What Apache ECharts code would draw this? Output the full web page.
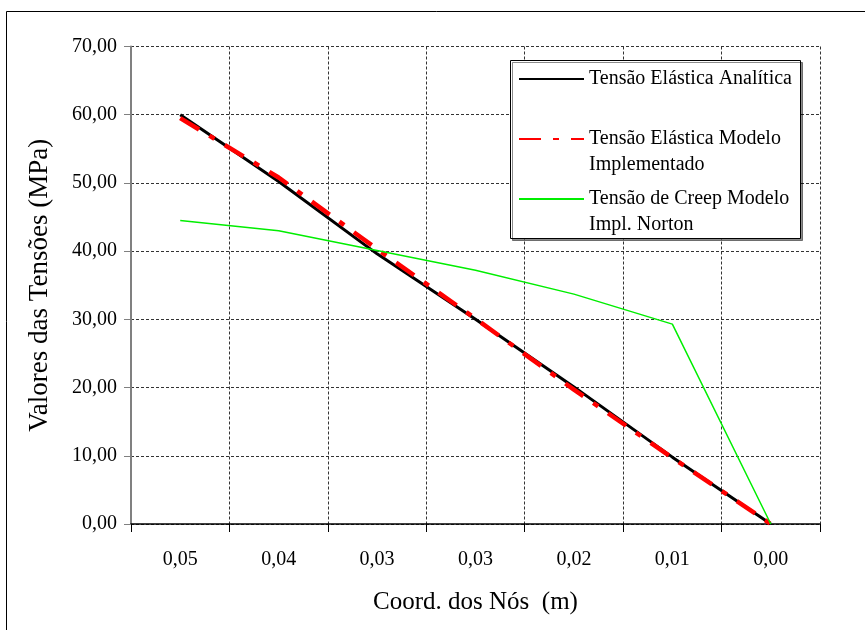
<!DOCTYPE html>
<html>
<head>
<meta charset="utf-8">
<script src="https://cdn.jsdelivr.net/npm/echarts@6/dist/echarts.min.js"></script>
<style>html,body{margin:0;padding:0;background:#fff}#c{width:865px;height:630px}</style>
</head>
<body>
<div id="c"></div>
<script>
// ---- data ----
var xLabels = ['0,05', '0,04', '0,03', '0,03', '0,02', '0,01', '0,00'];
var analitica = [60.0, 50.2, 39.6, 30.0, 20.1, 9.8, 0.0];
var modelo = [59.5, 50.8, 40.3, 30.1, 19.7, 9.7, 0.0];
var creep = [44.5, 43.0, 40.1, 37.2, 33.7, 29.3, 0.0];
var yTickLabels = ['0,00', '10,00', '20,00', '30,00', '40,00', '50,00', '60,00', '70,00'];
var seriesNames = ['Tensão Elástica Analítica', 'Tensão Elástica Modelo\nImplementado', 'Tensão de Creep Modelo\nImpl. Norton'];

var FONT = '"Liberation Serif", "Times New Roman", serif';
var chart = echarts.init(document.getElementById('c'), null, {renderer: 'canvas'});

function legendText(name) {
  var lines = name.split('\n');
  if (lines.length === 1) return ' \n' + lines[0] + '\n ';
  return ' \n' + lines.join('\n');
}

chart.setOption({
  animation: false,
  backgroundColor: '#fff',
  graphic: [
    {type: 'rect', z: 1, shape: {x: 6.5, y: 11.5, width: 900, height: 700},
     style: {fill: 'none', stroke: '#000', lineWidth: 1}},
    {type: 'rect', z: 1, shape: {x: 510.5, y: 60.5, width: 290, height: 178},
     style: {fill: '#fff', stroke: '#000', lineWidth: 1, shadowColor: 'rgba(0,0,0,0.45)', shadowOffsetX: 2, shadowOffsetY: 2, shadowBlur: 0}}
  ],
  grid: {left: 131, right: 45, top: 46.5, bottom: 106, containLabel: false},
  legend: {
    orient: 'vertical', left: 518, top: 40, padding: 0, itemGap: -18,
    itemWidth: 65, itemHeight: 14, z: 5,
    itemStyle: {opacity: 0},
    formatter: legendText,
    textStyle: {fontFamily: FONT, fontSize: 20, lineHeight: 26, color: '#000'},
    data: seriesNames
  },
  xAxis: {
    type: 'category', data: xLabels, boundaryGap: true,
    axisLine: {lineStyle: {color: '#000', width: 1.5}},
    axisTick: {show: true, length: 8, interval: 0, alignWithLabel: false, lineStyle: {color: '#000'}},
    axisLabel: {interval: 0, margin: 26, fontFamily: FONT, fontSize: 20, color: '#000'},
    splitLine: {show: true, interval: 0, lineStyle: {type: [3, 2], color: '#333', width: 1}},
    name: 'Coord. dos Nós  (m)', nameLocation: 'middle', nameGap: 66,
    nameTextStyle: {fontFamily: FONT, fontSize: 25, color: '#000'}
  },
  yAxis: {
    type: 'value', min: 0, max: 70, interval: 10,
    axisLine: {show: true, lineStyle: {color: '#808080', width: 2}},
    axisTick: {show: true, length: 7, lineStyle: {color: '#808080'}},
    axisLabel: {margin: 14, fontFamily: FONT, fontSize: 20, color: '#000',
      formatter: function (v) { return yTickLabels[Math.round(v / 10)]; }},
    splitLine: {show: true, lineStyle: {type: [3, 2], color: '#333', width: 1}},
    name: 'Valores das Tensões (MPa)', nameLocation: 'middle', nameGap: 78, nameRotate: 90,
    nameTextStyle: {fontFamily: FONT, fontSize: 27, color: '#000'}
  },
  series: [
    {name: seriesNames[0], type: 'line', data: analitica, symbol: 'none', z: 2,
     lineStyle: {color: '#000', width: 3}, itemStyle: {color: '#000'}},
    {name: seriesNames[1], type: 'line', data: modelo, symbol: 'none', z: 3,
     lineStyle: {color: '#ff0000', width: 4.5, type: [22, 12, 6, 12]}, itemStyle: {color: '#ff0000'}},
    {name: seriesNames[2], type: 'line', data: creep, symbol: 'none', z: 4,
     lineStyle: {color: '#00ee00', width: 1.5}, itemStyle: {color: '#00ee00'}}
  ]
});
</script>
</body>
</html>
